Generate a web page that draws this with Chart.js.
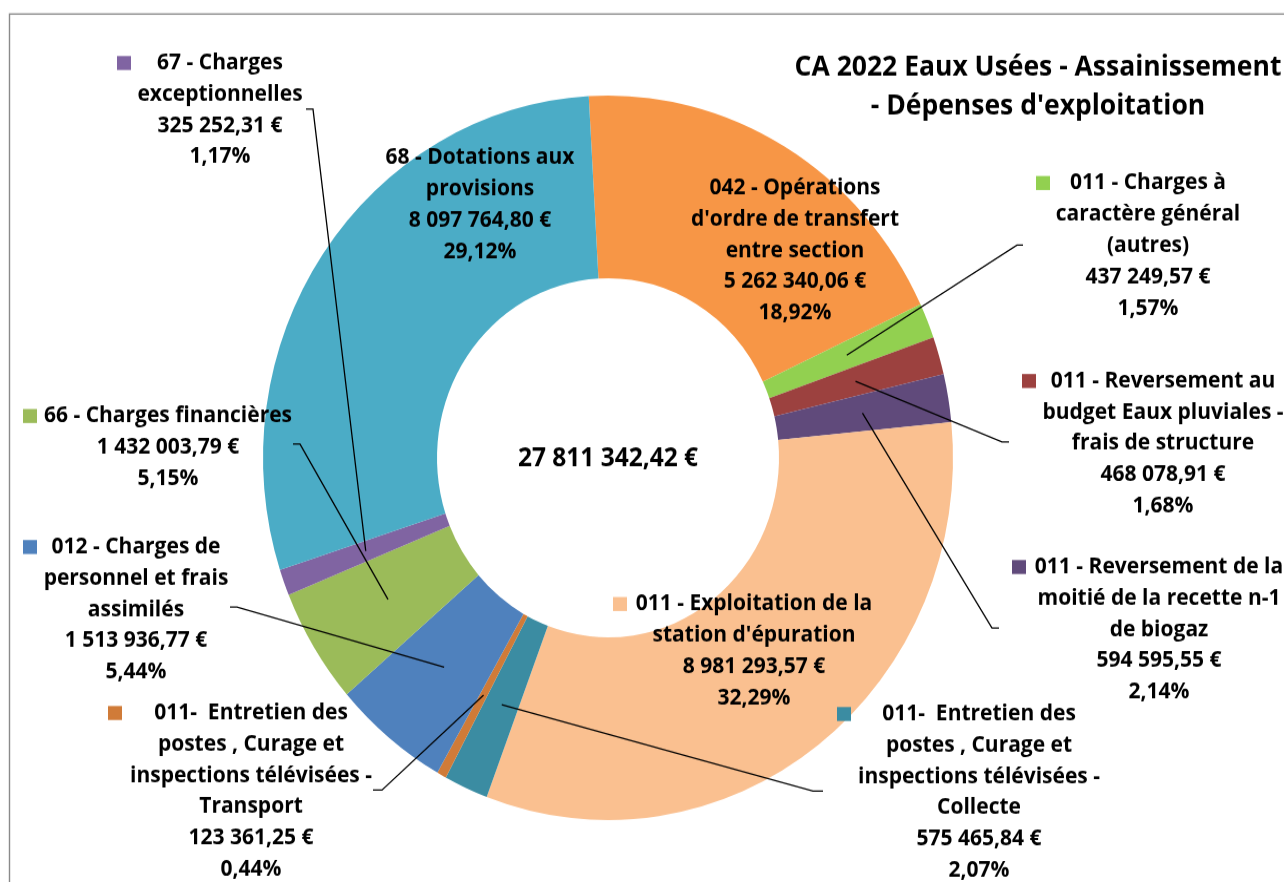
<!DOCTYPE html>
<html lang="fr">
<head>
<meta charset="utf-8">
<title>CA 2022 Eaux Usées - Assainissement - Dépenses d'exploitation</title>
<script src="https://cdn.jsdelivr.net/npm/chart.js@4.4.1/dist/chart.umd.min.js"></script>
<style>
    html { overflow: hidden; }
    html, body { margin: 0; padding: 0; background: #fff; width: 1284px; height: 882px; }
    /* l'original est légèrement étiré en hauteur */
    #wrap {
        width: 1284px;
        height: 840px;
        transform: scaleY(1.05);
        transform-origin: 0 0;
    }
</style>
</head>
<body>
<div id="wrap"><canvas id="depensesChart"></canvas></div>
<script>
// DONNEES (ordre horaire, depuis le haut)
const categories = [
    ['042 - Opérations', "d'ordre de transfert", 'entre section'],
    ['011 - Charges à', 'caractère général', '(autres)'],
    ['011 - Reversement au', 'budget Eaux pluviales -', 'frais de structure'],
    ['011 - Reversement de la', 'moitié de la recette n-1', 'de biogaz'],
    ['011 - Exploitation de la', "station d'épuration"],
    ['011-  Entretien des', 'postes , Curage et', 'inspections télévisées -', 'Collecte'],
    ['011-  Entretien des', 'postes , Curage et', 'inspections télévisées -', 'Transport'],
    ['012 - Charges de', 'personnel et frais', 'assimilés'],
    ['66 - Charges financières'],
    ['67 - Charges', 'exceptionnelles'],
    ['68 - Dotations aux', 'provisions']
]
const amounts = [
    5262340.06, 437249.57, 468078.91, 594595.55, 8981293.57,
    575465.84, 123361.25, 1513936.77, 1432003.79, 325252.31, 8097764.80
]
const colors = [
    '#F79646', '#92D050', '#9C413F', '#604A7B', '#FAC090',
    '#3B8CA2', '#D07B38', '#4F81BD', '#9BBB59', '#8064A2', '#4BACC6'
]
const titleLines = ['CA 2022 Eaux Usées - Assainissement', "- Dépenses d'exploitation"]

// position des étiquettes (coordonnées de l'image, avant étirement)
const STRETCH = 1.05
const labelLayout = [
    { cx: 795, y: 188 },
    { cx: 1148, y: 183, key: 1043, elbow: [1017, 245], tail: 1023 },
    { cx: 1163, y: 381, key: 1029, elbow: [1002, 442], tail: 1009 },
    { cx: 1159, y: 567, key: 1019, elbow: [992, 628], tail: 999 },
    { cx: 754, y: 604, key: 620 },
    { cx: 979, y: 714, key: 844, elbow: [813, 791], tail: 823 },
    { cx: 251, y: 713, key: 115, elbow: [382, 790], tail: 373 },
    { cx: 136, y: 547, key: 30, elbow: [237, 607], tail: 230 },
    { cx: 168, y: 416, key: 30, elbow: [300, 444], tail: 293 },
    { cx: 220, y: 63, key: 124, elbow: [313, 109], tail: 306 },
    { cx: 480, y: 158 }
]
const LINE_H = 31.3
const LABEL_FONT = 'bold 21px "Open Sans"'
const CENTER_FONT = 'bold 24.5px "Open Sans"'
const TITLE_FONT = 'bold 26.5px "Open Sans"'

function euro(v) {
    const parts = v.toFixed(2).split('.')
    return parts[0].replace(/\B(?=(\d{3})+(?!\d))/g, ' ') + ',' + parts[1] + ' €'
}

function pct(v, total) {
    return (v / total * 100).toFixed(2).replace('.', ',') + '%'
}

/* ==============================
           PLUGIN : cadre + titre
        ============================== */
const frameTitle = {
    id: 'frameTitle',
    beforeDraw(chart) {
        const ctx = chart.ctx
        ctx.save()
        ctx.strokeStyle = '#8a8a8a'
        ctx.lineWidth = 1.4
        ctx.strokeRect(9.5, 14 / STRETCH, 1400, 1000)
        ctx.fillStyle = '#000'
        ctx.font = TITLE_FONT
        ctx.textAlign = 'center'
        ctx.textBaseline = 'middle'
        ctx.fillText(titleLines[0], 1038, 68 / STRETCH)
        ctx.fillText(titleLines[1], 1038, 107 / STRETCH)
        ctx.restore()
    }
}

/* ==============================
           PLUGIN : étiquettes
        ============================== */
const sliceLabels = {
    id: 'sliceLabels',
    afterDatasetsDraw(chart) {
        const ctx = chart.ctx
        const meta = chart.getDatasetMeta(0)
        const ds = chart.data.datasets[0]
        const total = ds.data.reduce((a, b) => a + b, 0)

        ctx.save()

        // lignes de rappel
        ctx.strokeStyle = '#000'
        ctx.lineWidth = 1.3
        meta.data.forEach((arc, i) => {
            const lay = labelLayout[i]
            if (!lay.elbow) return
            const p = arc.tooltipPosition()
            const ey = lay.elbow[1] / STRETCH
            ctx.beginPath()
            ctx.moveTo(p.x, p.y)
            ctx.lineTo(lay.elbow[0], ey)
            ctx.lineTo(lay.tail, ey)
            ctx.stroke()
        })

        // textes
        ctx.font = LABEL_FONT
        ctx.textAlign = 'center'
        ctx.textBaseline = 'middle'
        chart.data.labels.forEach((name, i) => {
            const lay = labelLayout[i]
            const lines = [...name, euro(ds.data[i]), pct(ds.data[i], total)]
            lines.forEach((txt, k) => {
                ctx.fillStyle = '#000'
                ctx.fillText(txt, lay.cx, (lay.y + k * LINE_H) / STRETCH)
            })
            if (lay.key) {
                ctx.fillStyle = ds.backgroundColor[i]
                ctx.fillRect(lay.key - 7, (lay.y - 7) / STRETCH, 14, 14 / STRETCH)
            }
        })

        // total au centre
        const c = meta.data[0]
        ctx.font = CENTER_FONT
        ctx.fillStyle = '#000'
        ctx.fillText(euro(total), c.x, c.y + 1.5)

        ctx.restore()
    }
}

new Chart(document.getElementById('depensesChart'), {
    type: 'doughnut',
    data: {
        labels: categories,
        datasets: [
            {
                data: amounts,
                backgroundColor: colors,
                borderWidth: 0
            }
        ]
    },
    options: {
        responsive: true,
        maintainAspectRatio: false,
        animation: false,
        events: [],
        rotation: -3.2,
        radius: 345,
        cutout: 171,
        layout: {
            padding: { left: 263, right: 331, top: 91, bottom: 59 }
        },
        plugins: {
            legend: { display: false },
            tooltip: { enabled: false }
        }
    },
    plugins: [frameTitle, sliceLabels]
})
</script>
</body>
</html>
